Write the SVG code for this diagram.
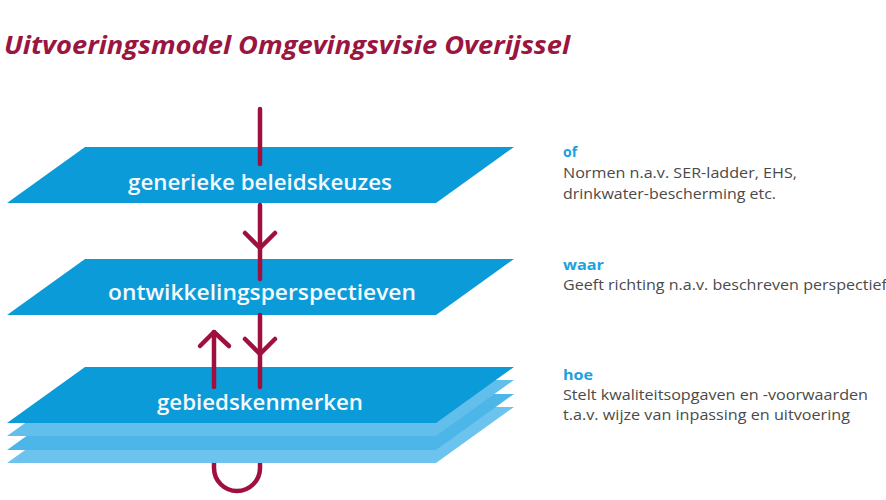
<svg xmlns="http://www.w3.org/2000/svg" width="886" height="500" viewBox="0 0 886 500">
  <style>
    .plane { fill: #0b9bd9; }
    .ptext { font-family: "Open Sans", "Noto Sans", sans-serif; font-weight: 600; font-size: 21px; fill: #f4fafd; text-anchor: middle; }
    .title { font-family: "Open Sans", "Noto Sans", sans-serif; font-weight: 700; font-style: italic; font-size: 25px; fill: #9a1540; }
    .key { font-family: "Open Sans", "Noto Sans", sans-serif; font-weight: 700; font-size: 14px; fill: #1ba2dc; }
    .desc { font-family: "Open Sans", "Noto Sans", sans-serif; font-size: 14px; fill: #4a4a4a; }
    .red { fill: none; stroke: #a0103f; stroke-width: 4.5; stroke-linecap: round; stroke-linejoin: round; }
  </style>
  <rect width="886" height="500" fill="#ffffff"/>
  <text class="title" x="4" y="54" textLength="566" lengthAdjust="spacingAndGlyphs">Uitvoeringsmodel Omgevingsvisie Overijssel</text>

  <g id="loop-back">
    <path class="red" d="M214,452 L214,468 A23,23 0 0 0 260,468 L260,452"/>
  </g>

  <g id="node-gebiedskenmerken">
    <polygon points="85,407 514,407 436,463 7,463" fill="#6cc4ee"/>
    <polygon points="85,394 514,394 436,450 7,450" fill="#4cb6e8"/>
    <polygon points="85,380 514,380 436,436 7,436" fill="#62bfeb"/>
    <polygon class="plane" points="85,367 514,367 436,423 7,423"/>
    <text class="ptext" x="260" y="410" textLength="206" lengthAdjust="spacingAndGlyphs">gebiedskenmerken</text>
  </g>

  <g id="node-ontwikkelingsperspectieven">
    <polygon class="plane" points="85,259 514,259 436,315 7,315"/>
    <text class="ptext" x="262" y="300" textLength="308" lengthAdjust="spacingAndGlyphs">ontwikkelingsperspectieven</text>
  </g>

  <g id="node-generieke-beleidskeuzes">
    <polygon class="plane" points="85,147 514,147 436,203 7,203"/>
    <text class="ptext" x="260" y="190" textLength="264" lengthAdjust="spacingAndGlyphs">generieke beleidskeuzes</text>
  </g>

  <g id="connectors">
    <line class="red" x1="260" y1="109" x2="260" y2="164"/>
    <line class="red" x1="260" y1="205" x2="260" y2="279"/>
    <polyline class="red" points="245,233 260,248 275,233"/>
    <line class="red" x1="260" y1="315" x2="260" y2="387"/>
    <polyline class="red" points="245,339 260,354 275,339"/>
    <line class="red" x1="214" y1="387" x2="214" y2="332"/>
    <polyline class="red" points="200,346 214,332 229,346"/>
  </g>

  <g id="legend-of">
    <text class="key" x="563" y="157">of</text>
    <text class="desc" x="563" y="178" textLength="234" lengthAdjust="spacingAndGlyphs">Normen n.a.v. SER-ladder, EHS,</text>
    <text class="desc" x="563" y="199" textLength="213" lengthAdjust="spacingAndGlyphs">drinkwater-bescherming etc.</text>
  </g>
  <g id="legend-waar">
    <text class="key" x="563" y="270" textLength="41" lengthAdjust="spacingAndGlyphs">waar</text>
    <text class="desc" x="563" y="290" textLength="324" lengthAdjust="spacingAndGlyphs">Geeft richting n.a.v. beschreven perspectief</text>
  </g>
  <g id="legend-hoe">
    <text class="key" x="563" y="380" textLength="30" lengthAdjust="spacingAndGlyphs">hoe</text>
    <text class="desc" x="563" y="400" textLength="305" lengthAdjust="spacingAndGlyphs">Stelt kwaliteitsopgaven en -voorwaarden</text>
    <text class="desc" x="563" y="420" textLength="287" lengthAdjust="spacingAndGlyphs">t.a.v. wijze van inpassing en uitvoering</text>
  </g>
</svg>
